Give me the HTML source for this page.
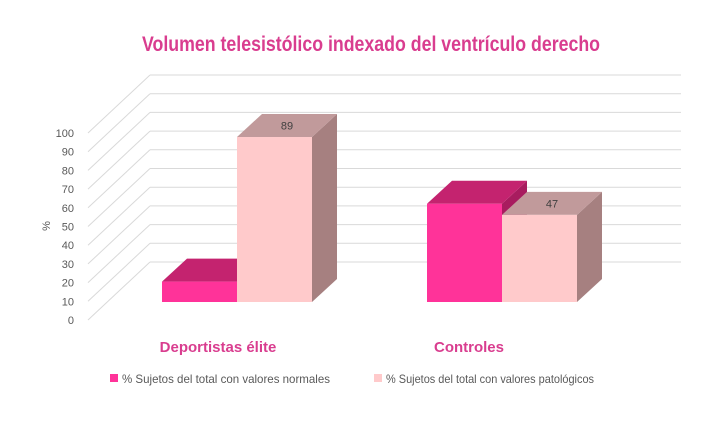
<!DOCTYPE html>
<html><head><meta charset="utf-8"><style>
html,body{margin:0;padding:0;background:#fff;}
svg{display:block;font-family:"Liberation Sans",sans-serif;}
</style></head><body>
<svg id="chart" width="713" height="425" viewBox="0 0 713 425">
<text x="371" y="51" text-anchor="middle" font-size="21" font-weight="bold" fill="#d93d8f" textLength="458" lengthAdjust="spacingAndGlyphs">Volumen telesistólico indexado del ventrículo derecho</text>
<g id="grid"></g>
<g id="yticks"></g>
<text transform="translate(50,226) rotate(-90)" text-anchor="middle" font-size="11" fill="#595959">%</text>
<g id="bars"></g>
<g id="cats"></g>
<g>
<g>
<rect x="110" y="374" width="8" height="8" fill="#ff3399"/>
<text x="122" y="383" font-size="12" fill="#595959" textLength="208" lengthAdjust="spacingAndGlyphs">% Sujetos del total con valores normales</text>
</g>
<g>
<rect x="374" y="374" width="8" height="8" fill="#ffcacb"/>
<text x="386" y="383" font-size="12" fill="#595959" textLength="208" lengthAdjust="spacingAndGlyphs">% Sujetos del total con valores patológicos</text>
</g>
</g>
</svg>
<script>
const categories = ["Deportistas élite", "Controles"];
const normales = [11, 53];
const patologicos = [89, 47];
const yTicks = [0,10,20,30,40,50,60,70,80,90,100];

const NS = "http://www.w3.org/2000/svg";
function mk(tag, attrs, parent){const e=document.createElementNS(NS,tag);for(const k in attrs)e.setAttribute(k,attrs[k]);parent.appendChild(e);return e;}
const wallY = v => 262 - v*1.87;
const frontY = v => 320 - v*1.87;
const barY = v => 302 - v*1.854;
const DX = 25, DY = -23;

const grid = document.getElementById('grid');
const yt = document.getElementById('yticks');
yTicks.forEach(t=>{
  const l1 = mk('line',{x1:150,y1:wallY(t),x2:681,y2:wallY(t),stroke:'#d9d9d9','stroke-width':1},grid);
  
  
  const l2 = mk('line',{x1:88,y1:frontY(t),x2:150,y2:wallY(t),stroke:'#d9d9d9','stroke-width':1},grid);
  
  
  const tx = mk('text',{x:74,y:frontY(t)+4,'text-anchor':'end','font-size':11,fill:'#595959'},yt);
  tx.textContent = t;
  
  
});

const groupX = [162, 427];
const labelX = [218, 469];
const bw = 75;
const bars = document.getElementById('bars');
function bar3d(x, v, front, top, side, name, label){
  const g = mk('g',{},bars);
  
  
  const y0 = barY(0), y1 = barY(v);
  mk('polygon',{points:`${x+bw},${y1} ${x+bw+DX},${y1+DY} ${x+bw+DX},${y0+DY} ${x+bw},${y0}`,fill:side},g);
  mk('polygon',{points:`${x},${y1} ${x+DX},${y1+DY} ${x+bw+DX},${y1+DY} ${x+bw},${y1}`,fill:top},g);
  mk('rect',{x:x,y:y1,width:bw,height:y0-y1,fill:front},g);
  if(label){
    const t = mk('text',{x:x+bw/2+DX/2,y:y1+DY/2+4,'text-anchor':'middle','font-size':11,fill:'#404040'},g);
    t.textContent = label;
    
    
  }
}
categories.forEach((c,i)=>{
  const x = groupX[i];
  bar3d(x, normales[i], '#ff3399', '#c4236f', '#a81c5f', 'bar-normales-'+i, null);
  bar3d(x+bw, patologicos[i], '#ffcacb', '#c19a9b', '#a68080', 'bar-patologicos-'+i, String(patologicos[i]));
  const t = mk('text',{x:labelX[i],y:352,'text-anchor':'middle','font-size':15,'font-weight':'bold',fill:'#d93d8f'},document.getElementById('cats'));
  t.textContent = c;
  
  
});
</script>
</body></html>
